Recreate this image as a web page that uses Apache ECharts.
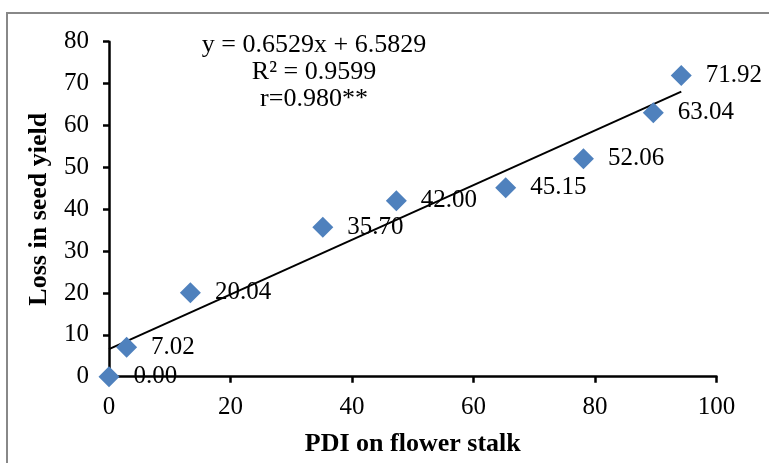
<!DOCTYPE html>
<html>
<head>
<meta charset="utf-8">
<script src="https://cdn.jsdelivr.net/npm/echarts@6/dist/echarts.min.js"></script>
<style>
html,body{margin:0;padding:0;background:#fff;}
#chart{width:769px;height:463px;}
</style>
</head>
<body>
<div id="chart"></div>
<script>
// Data
var pdiFlowerStalk = [0, 2.9, 13.4, 35.2, 47.3, 65.3, 78.1, 89.6, 94.2];
var lossSeedYield = [0.00, 7.02, 20.04, 35.70, 42.00, 45.15, 52.06, 63.04, 71.92];
var trendSlope = 0.6529;
var trendIntercept = 6.5829;
var equationLines = ['y = 0.6529x + 6.5829', 'R\u00b2 = 0.9599', 'r=0.980**'];
var xTicks = {min: 0, max: 100, interval: 20};
var yTicks = {min: 0, max: 80, interval: 10};

var points = pdiFlowerStalk.map(function (x, i) { return [x, lossSeedYield[i]]; });
var xMaxData = Math.max.apply(null, pdiFlowerStalk);
var trendLine = [
  [0, trendIntercept],
  [xMaxData, trendSlope * xMaxData + trendIntercept]
];

var serif = '"Liberation Serif", "Times New Roman", serif';
var chart = echarts.init(document.getElementById('chart'), null, {renderer: 'canvas'});
chart.setOption({
  animation: false,
  backgroundColor: '#fff',
  grid: {left: 109, right: 52.5, top: 41.7, bottom: 86.3, containLabel: false},
  xAxis: {
    type: 'value', min: xTicks.min, max: xTicks.max, interval: xTicks.interval,
    name: 'PDI on flower stalk', nameLocation: 'middle', nameGap: 55,
    nameTextStyle: {fontFamily: serif, fontWeight: 'bold', fontSize: 26, color: '#000'},
    axisLine: {show: true, lineStyle: {color: '#000', width: 2.5}},
    axisTick: {show: true, length: 6, lineStyle: {color: '#000', width: 2.5}},
    axisLabel: {fontFamily: serif, fontSize: 25, color: '#000', margin: 18},
    splitLine: {show: false}
  },
  yAxis: {
    type: 'value', min: yTicks.min, max: yTicks.max, interval: yTicks.interval,
    name: 'Loss in seed yield', nameLocation: 'middle', nameGap: 57, nameRotate: 90,
    nameTextStyle: {fontFamily: serif, fontWeight: 'bold', fontSize: 26, color: '#000'},
    axisLine: {show: true, lineStyle: {color: '#000', width: 2.5}},
    axisTick: {show: true, length: 6, lineStyle: {color: '#000', width: 2.5}},
    axisLabel: {fontFamily: serif, fontSize: 25, color: '#000', margin: 20},
    splitLine: {show: false}
  },
  series: [
    {
      type: 'line', data: trendLine, symbol: 'none', silent: true,
      lineStyle: {color: '#000', width: 2}, z: 2
    },
    {
      type: 'scatter', data: points, symbol: 'diamond', symbolSize: 21,
      itemStyle: {color: '#4F81BD', opacity: 1}, z: 3,
      label: {
        show: true, position: 'right', distance: 14,
        fontFamily: serif, fontSize: 25, color: '#000',
        formatter: function (p) { return p.value[1].toFixed(2); }
      }
    }
  ],
  graphic: [
    {type: 'rect', shape: {x: 7, y: 13, width: 800, height: 500}, style: {fill: 'none', stroke: '#888', lineWidth: 2}, z: -1, silent: true},
    {type: 'text', x: 314, y: 45, style: {text: equationLines[0], font: '26px ' + serif, fill: '#000', align: 'center', verticalAlign: 'middle'}},
    {type: 'text', x: 314, y: 72, style: {text: equationLines[1], font: '26px ' + serif, fill: '#000', align: 'center', verticalAlign: 'middle'}},
    {type: 'text', x: 314, y: 99, style: {text: equationLines[2], font: '26px ' + serif, fill: '#000', align: 'center', verticalAlign: 'middle'}}
  ]
});
</script>
</body>
</html>
